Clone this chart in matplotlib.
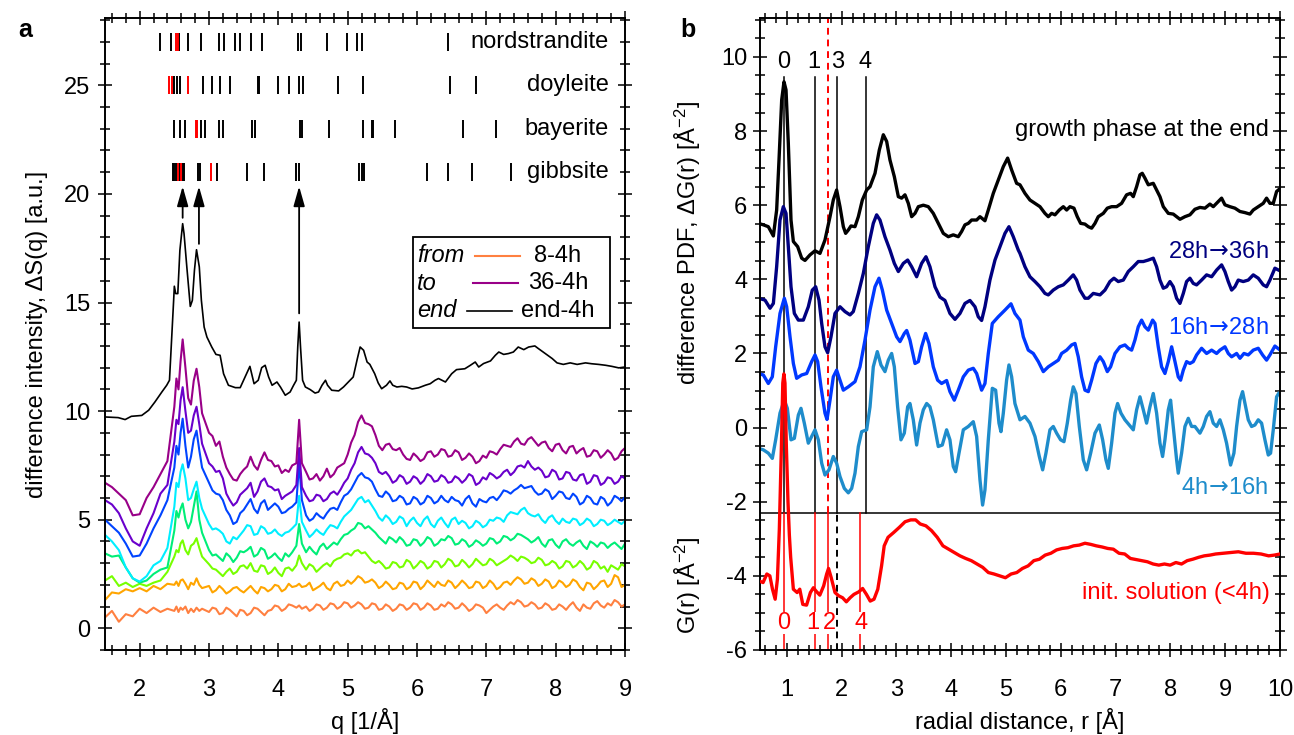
import matplotlib
matplotlib.use('Agg')
import matplotlib.pyplot as plt
from matplotlib.ticker import MultipleLocator
from matplotlib.patches import Rectangle
from matplotlib.lines import Line2D

plt.rcParams['font.family'] = ['Liberation Sans', 'DejaVu Sans']
plt.rcParams['mathtext.fontset'] = 'custom'
plt.rcParams['mathtext.rm'] = 'Liberation Sans'
plt.rcParams['mathtext.it'] = 'Liberation Sans:italic'
plt.rcParams['axes.unicode_minus'] = False

# ---------------- panel a data ----------------
q_end = [1.50,1.69,1.79,1.88,2.03,2.13,2.22,2.32,2.39,2.43,
         2.46,2.49,2.50,2.52,2.55,2.58,2.62,2.64,2.68,2.73,
         2.76,2.79,2.82,2.86,2.89,2.93,2.97,3.04,3.10,3.16,
         3.21,3.28,3.38,3.45,3.52,3.59,3.65,3.71,3.76,3.81,
         3.86,3.91,3.98,4.03,4.10,4.17,4.22,4.26,4.28,4.30,
         4.32,4.35,4.39,4.46,4.53,4.58,4.63,4.68,4.71,4.77,
         4.87,4.94,5.01,5.08,5.14,5.18,5.23,5.28,5.32,5.39,
         5.44,5.49,5.56,5.61,5.65,5.71,5.78,5.85,5.93,6.02,
         6.12,6.19,6.26,6.31,6.41,6.50,6.57,6.69,6.77,6.84,
         6.89,6.96,7.06,7.13,7.18,7.25,7.32,7.39,7.46,7.54,
         7.61,7.70,7.75,7.85,7.95,8.02,8.11,8.21,8.31,8.43,
         8.52,8.62,8.72,8.81,8.91,9.00]
s_end = [9.73,9.70,9.61,9.76,9.80,10.04,10.42,10.88,11.19,11.42,
         13.26,15.10,15.75,15.41,15.41,17.40,18.63,18.17,16.64,14.82,
         15.10,16.48,17.43,16.64,15.10,13.87,13.41,12.95,12.61,12.57,
         11.72,11.19,11.08,11.08,11.57,12.06,11.26,11.42,12.00,12.11,
         11.57,11.19,11.34,11.11,10.73,10.88,11.19,11.42,12.95,14.10,
         12.95,11.42,11.11,10.99,10.83,10.88,11.19,11.42,11.19,10.96,
         10.93,11.11,11.34,11.57,12.42,12.95,12.80,12.26,12.15,11.72,
         11.30,11.03,11.19,11.39,11.19,11.11,11.14,11.11,11.02,11.07,
         11.19,11.26,11.42,11.50,11.34,11.72,11.91,11.95,12.11,12.26,
         12.03,12.19,12.31,12.57,12.72,12.61,12.65,12.72,12.95,12.83,
         12.95,13.00,12.88,12.65,12.42,12.22,12.15,12.22,12.15,12.22,
         12.18,12.15,12.11,12.06,11.99,12.03]

q_col = [1.5,1.6,1.7,1.8,1.9,2.0,2.1,2.2,2.3,2.4,2.5,
         2.53,2.56,2.59,2.62,2.66,2.70,2.74,2.78,2.82,2.86,2.90,
         3.0,3.05,3.1,3.15,3.2,3.25,3.3,3.35,3.4,3.45,3.5,3.55,3.6,3.65,3.7,
         3.75,3.8,3.85,3.9,3.95,4.0,4.05,4.1,4.15,4.2,
         4.26,4.30,4.34,
         4.4,4.45,4.5,4.55,4.6,4.65,4.7,4.75,4.8,4.85,4.9,4.95,5.0,5.05,5.1,5.15,
         5.2,5.25,5.3,5.35,5.4,5.45,5.5,5.55,5.6,5.65,5.7,5.75,5.8,5.85,5.9,5.95,
         6.0,6.05,6.1,6.15,6.2,6.25,6.3,6.35,6.4,6.45,6.5,6.55,6.6,6.65,6.7,6.75,
         6.8,6.85,6.9,6.95,
         7.0,7.05,7.1,7.15,7.2,7.25,7.3,7.35,7.4,7.45,7.5,7.55,7.6,7.65,7.7,7.75,
         7.8,7.85,7.9,7.95,
         8.0,8.05,8.1,8.15,8.2,8.25,8.3,8.35,8.4,8.45,8.5,8.55,8.6,8.65,8.7,8.75,
         8.8,8.85,8.9,8.95,9.0]

s_36 = [6.7,6.5,6.2,5.9,5.2,5.25,6.0,6.5,7.1,7.7,10.2,
        11.5,11.0,12.3,13.3,12.0,10.6,10.3,11.4,11.95,11.1,9.9,
        9.0,8.85,8.4,8.6,7.9,7.4,7.1,6.85,6.8,7.1,7.3,7.45,7.9,7.5,7.3,7.75,8.1,
        7.75,7.7,7.45,7.5,7.15,7.3,7.2,7.5,
        7.6,9.6,7.6,
        7.2,6.85,6.9,7.1,6.8,7.0,7.35,6.95,7.1,7.4,
        7.5,7.6,8.0,8.55,8.9,9.5,9.8,9.45,9.4,9.3,
        8.9,8.4,8.2,8.45,8.5,8.25,8.2,8.3,8.0,7.8,
        7.75,8.05,7.9,7.7,7.8,8.1,8.15,7.9,8.0,8.25,
        8.2,7.9,7.95,8.2,8.1,7.75,7.85,8.05,7.9,7.6,
        7.7,7.95,7.85,8.15,8.1,8.0,8.25,8.45,8.4,8.35,
        8.6,8.75,8.5,8.45,8.7,8.8,8.6,8.4,8.55,8.6,
        8.3,8.15,8.45,8.5,8.2,8.05,8.35,8.4,8.05,8.2,
        8.3,7.9,7.95,8.2,8.15,7.85,8.0,8.2,8.05,7.75,
        7.85,8.15,8.3]
s_32 = [5.9,5.7,5.3,4.6,4.0,3.8,4.6,5.3,6.2,6.6,8.6,
        9.6,9.4,10.5,11.1,10.0,9.0,9.1,9.8,10.2,9.4,8.5,
        7.6,7.45,7.2,7.25,6.9,6.2,5.9,5.65,5.8,6.15,6.3,6.45,6.7,6.05,6.3,6.75,6.9,
        6.55,6.5,6.35,6.4,5.95,6.1,6.2,6.3,
        6.6,8.3,6.5,
        6.1,5.85,5.9,6.15,6.1,5.85,5.95,6.2,6.3,6.15,
        6.4,6.7,6.9,7.3,7.6,8.1,8.35,8.05,8.0,7.85,
        7.6,7.2,7.1,7.2,7.0,6.7,6.8,7.05,6.95,6.65,
        6.75,7.0,6.9,6.65,6.8,7.1,7.0,6.75,6.8,7.05,
        6.95,6.7,6.75,7.0,6.9,6.7,6.85,7.1,7.0,6.6,
        6.7,6.95,6.85,7.15,7.05,6.9,7.0,7.2,7.3,7.05,
        7.2,7.45,7.5,7.4,7.7,7.45,7.3,7.4,7.25,6.95,
        7.0,7.3,7.2,6.85,6.9,7.2,7.15,6.85,6.8,7.05,
        7.1,6.65,6.75,7.05,7.0,6.6,6.7,6.95,6.9,6.65,
        6.75,7.0,6.9]
s_28 = [5.0,4.7,4.4,3.9,3.3,3.35,3.9,4.6,5.2,5.9,7.4,
        8.4,8.0,9.0,9.65,8.4,7.4,7.9,8.7,9.1,8.2,7.4,
        6.7,6.35,6.2,6.15,5.9,5.45,5.2,4.8,4.9,5.3,5.45,5.7,5.95,5.5,5.3,5.75,5.9,
        5.45,5.6,5.75,5.6,5.3,5.35,5.5,5.6,
        5.8,7.6,5.9,
        5.2,4.95,5.05,5.3,5.15,5.05,5.3,5.5,5.55,5.45,
        5.8,6.1,6.2,6.4,6.7,7.0,7.15,6.95,6.9,6.75,
        6.4,6.1,6.05,6.3,6.15,5.85,5.9,6.1,6.0,5.7,
        5.75,6.05,5.95,5.7,5.8,6.1,6.0,5.75,5.85,6.1,
        5.9,5.8,6.05,5.9,5.85,5.65,5.95,6.1,5.75,5.6,
        5.95,5.85,5.8,6.0,6.05,5.9,6.1,6.35,6.3,6.2,
        6.35,6.45,6.6,6.45,6.5,6.55,6.3,6.15,6.2,6.4,
        6.3,5.95,6.1,6.3,6.25,6.0,5.95,6.2,6.05,5.7,
        5.8,6.1,6.0,5.75,5.7,6.05,5.95,5.65,5.8,6.1,
        6.0,5.85,6.05]
s_24 = [4.3,4.0,3.6,2.8,2.3,2.15,2.4,2.9,3.1,3.7,5.6,
        6.7,6.5,7.2,7.55,6.9,5.9,6.0,6.4,6.75,6.0,5.5,
        4.8,4.55,4.6,4.5,4.35,4.0,3.9,4.2,4.1,4.3,4.5,4.75,4.7,4.3,4.35,4.7,4.6,
        4.35,4.4,4.55,4.35,4.25,4.4,4.45,4.6,
        4.8,6.1,4.9,
        4.5,4.2,4.35,4.55,4.4,4.3,4.55,4.75,4.7,4.6,
        4.9,5.15,5.3,5.45,5.7,5.95,6.05,5.8,5.9,5.65,
        5.4,5.1,4.95,5.2,5.05,4.8,4.9,5.15,5.05,4.7,
        4.95,5.1,4.85,4.7,5.0,5.15,4.8,4.65,4.95,5.1,
        4.85,4.65,5.0,5.1,4.8,4.95,4.85,4.6,4.7,4.95,
        4.85,4.65,4.75,5.0,4.95,5.1,5.05,4.9,5.2,5.35,
        5.3,5.25,5.45,5.55,5.3,5.2,5.15,5.25,5.0,4.85,
        5.1,5.2,4.95,4.8,5.05,4.9,4.85,5.05,5.0,4.75,
        4.85,5.05,4.95,4.7,4.8,5.0,4.95,4.75,4.85,5.0,
        4.9,4.8,4.95]
s_20 = [3.45,3.3,3.35,2.8,2.3,2.1,2.2,2.5,2.7,2.8,4.5,
        5.4,5.1,5.5,5.75,5.0,4.6,4.9,5.6,6.3,5.0,4.4,
        3.6,3.35,3.4,3.25,3.1,3.45,3.3,3.05,3.25,3.55,3.5,3.6,3.75,3.3,3.4,3.7,3.6,
        3.2,3.3,3.45,3.25,3.1,3.45,3.3,3.5,
        3.8,4.8,3.9,
        3.5,3.75,3.55,3.4,3.75,3.9,3.65,3.8,3.95,3.85,
        4.1,4.3,4.35,4.5,4.6,4.85,4.8,4.6,4.7,4.55,
        4.4,4.2,4.05,3.9,4.2,4.1,3.95,4.2,4.05,3.8,
        3.85,4.1,4.05,3.8,3.95,4.2,4.1,3.8,3.9,4.1,
        4.05,4.25,4.15,3.85,3.9,4.1,4.0,3.75,3.85,4.05,
        3.95,3.8,3.9,4.15,4.1,3.9,4.0,4.25,4.2,4.05,
        4.15,4.35,4.3,4.2,4.1,3.95,4.05,4.2,3.9,3.75,
        4.05,4.1,3.85,3.7,4.0,4.1,3.9,3.8,3.95,4.05,
        3.8,3.65,4.0,3.9,3.75,3.95,3.9,3.7,3.85,3.95,
        3.8,3.65,3.9]
s_16 = [2.2,2.4,1.95,2.1,1.9,2.05,1.95,2.1,2.2,2.6,3.3,
        3.6,3.5,3.9,4.05,3.6,3.4,3.8,3.9,4.15,3.7,3.3,
        2.95,2.75,2.7,2.55,2.4,2.6,2.75,2.5,2.6,2.85,2.9,2.75,3.0,2.65,2.6,2.9,2.85,
        2.5,2.6,2.8,2.55,2.4,2.75,2.8,2.65,
        2.9,3.35,3.0,
        2.7,2.95,2.85,2.6,2.75,2.9,3.0,2.85,3.1,3.2,
        3.25,3.4,3.45,3.35,3.55,3.6,3.45,3.5,3.3,3.1,
        3.0,3.1,2.95,2.75,2.8,3.05,3.0,2.8,2.85,3.15,
        3.05,2.75,2.9,3.1,3.0,2.75,2.85,3.1,3.05,2.8,
        2.95,3.2,3.1,2.85,2.9,3.15,3.0,2.8,2.95,3.2,
        3.05,2.9,2.95,3.2,3.1,2.9,3.0,3.1,3.2,3.35,
        3.25,3.1,3.3,3.25,3.15,3.0,3.05,3.25,3.15,2.9,
        2.95,3.1,3.0,2.75,2.85,3.1,3.05,2.8,2.9,3.1,
        2.95,2.7,2.8,3.1,3.0,2.75,2.85,2.6,2.9,2.8,
        2.7,2.95,2.85]
s_12 = [1.3,1.65,1.6,1.8,1.7,1.85,1.7,1.95,1.8,2.05,2.0,
        2.15,1.95,2.2,2.25,2.05,1.8,2.1,2.0,2.3,2.0,1.85,
        1.95,1.65,1.75,1.95,1.8,1.6,1.7,1.85,1.9,1.75,1.65,1.8,1.95,1.75,1.6,1.9,1.85,
        1.7,1.8,2.0,1.95,1.7,1.8,2.05,1.9,
        1.95,2.05,1.9,
        1.95,2.1,1.75,1.85,1.95,2.1,1.85,1.75,2.05,2.15,
        1.95,2.0,2.2,2.05,2.2,2.4,2.3,2.1,2.15,2.25,
        2.1,1.85,1.95,2.15,2.0,1.8,1.85,2.1,2.05,1.8,
        1.9,2.15,2.1,1.8,1.95,2.2,2.05,1.9,2.15,2.0,
        1.95,2.2,2.1,1.85,2.0,2.2,2.05,1.85,1.9,2.15,
        2.1,1.85,1.95,2.2,2.05,1.8,1.9,2.1,2.15,2.0,
        2.2,2.35,2.25,2.05,2.1,2.3,2.2,1.95,2.05,2.25,
        2.15,1.85,1.95,2.2,2.1,1.9,2.0,2.25,2.15,1.9,
        1.75,2.1,2.05,1.8,1.95,2.15,2.2,1.9,2.05,2.45,
        2.35,1.9,2.0]
s_8 = [0.5,0.8,0.3,0.65,0.55,0.9,0.7,0.95,0.75,0.9,0.8,
       1.0,0.75,0.95,0.85,1.0,0.7,0.9,0.75,0.95,0.8,0.9,
       0.75,0.95,0.9,0.65,0.7,0.95,0.85,0.7,0.55,0.85,0.8,0.6,0.7,0.95,0.9,0.75,0.6,
       0.8,0.85,1.05,1.0,0.8,0.9,1.1,1.05,
       0.95,1.05,0.9,
       1.0,0.8,0.9,1.1,1.05,0.85,0.95,1.15,1.1,0.9,
       1.0,1.2,1.15,0.95,1.05,1.2,1.1,0.9,0.95,1.15,
       1.1,0.85,0.9,1.1,1.0,0.8,0.9,1.1,1.05,0.85,
       0.95,1.15,1.1,0.85,0.95,1.15,1.05,0.85,0.9,1.1,
       1.0,1.2,1.1,0.9,0.95,1.15,1.0,0.8,0.9,1.1,
       1.05,0.95,0.7,0.85,1.0,1.1,0.95,0.85,1.05,1.2,
       1.1,1.3,1.2,1.0,1.05,1.2,1.1,0.9,0.95,1.15,
       1.05,0.85,0.9,1.1,1.0,0.85,1.05,1.2,0.95,0.8,
       1.1,0.95,0.9,1.15,1.25,1.05,0.95,1.15,1.05,1.3,
       1.2,1.0,1.1]

series_a = [s_8, s_12, s_16, s_20, s_24, s_28, s_32, s_36]
colors_a = ['#FF8040', '#FFA500', '#77FF00', '#00EE77', '#00EEFF',
            '#0044FF', '#6A00CC', '#990088']

phase_names = ['nordstrandite', 'doyleite', 'bayerite', 'gibbsite']
phase_rows = [27, 25, 23, 21]
phase_black = [
    [2.29, 2.45, 2.57, 2.69, 2.89, 3.15, 3.21, 3.38, 3.44, 3.61, 3.76, 4.28, 4.33,
     4.70, 4.99, 5.13, 5.21, 6.45],
    [2.50, 2.54, 2.58, 2.92, 3.04, 3.16, 3.30, 3.71, 3.72, 3.99, 4.16, 4.30, 4.35,
     4.86, 5.22, 6.48, 6.85],
    [2.49, 2.58, 2.65, 2.88, 2.94, 3.15, 3.20, 3.62, 3.66, 4.31, 4.34, 4.73, 5.22,
     5.35, 5.36, 5.68, 6.67, 7.14],
    [2.48, 2.50, 2.52, 2.58, 2.62, 2.64, 2.84, 2.87, 3.11, 3.55, 3.79, 4.26, 4.30,
     5.17, 5.20, 5.23, 6.15, 6.45, 6.80, 7.35],
]
phase_red = [[2.53, 2.55], [2.43, 2.47, 2.69], [2.81, 2.83], [2.55, 2.60, 3.03]]

arrow_q = [2.62, 2.855, 4.30]
arrow_tail = [18.9, 17.7, 14.5]
arrow_tip = 20.35

# ---------------- panel b data ----------------
r_end = [0.479,0.570,0.661,0.753,0.813,0.856,0.905,0.947,0.984,1.026,
         1.075,1.118,1.197,1.270,1.330,1.422,1.513,1.604,1.695,1.787,
         1.847,1.908,1.969,2.030,2.072,2.121,2.170,2.243,2.304,2.377,
         2.456,2.517,2.608,2.687,2.760,2.821,2.881,2.961,3.034,3.094,
         3.155,3.216,3.277,3.338,3.399,3.490,3.581,3.672,3.763,3.855,
         3.946,4.037,4.128,4.189,4.250,4.311,4.372,4.463,4.524,4.615,
         4.676,4.767,4.858,4.950,5.029,5.102,5.193,
         5.254,5.345,5.436,5.528,5.619,5.710,5.771,5.832,5.893,5.972,
         6.045,6.106,6.166,6.239,6.300,6.361,6.440,6.501,6.562,6.623,
         6.683,6.775,6.848,6.927,7.018,7.109,7.200,7.273,7.322,7.383,
         7.444,7.486,7.535,7.596,7.687,7.748,7.809,7.870,7.961,8.052,
         8.113,8.174,8.265,8.356,8.447,8.539,8.630,8.721,8.782,8.873,
         8.934,8.995,9.086,9.177,9.269,9.360,9.451,9.512,9.603,9.694,
         9.755,9.816,9.877,9.938,9.986]
g_end = [5.51,5.47,5.42,5.17,5.87,7.22,8.84,9.33,9.11,7.67,
         5.60,5.02,4.88,4.57,4.51,4.66,4.77,4.70,5.06,5.69,
         6.14,6.41,5.96,5.42,5.24,5.33,5.44,5.42,5.69,6.14,
         6.41,6.50,6.86,7.49,7.90,7.72,7.22,6.77,6.23,6.19,
         6.28,6.05,5.69,5.78,5.96,6.00,5.96,5.78,5.51,5.24,
         5.15,5.20,5.15,5.29,5.47,5.51,5.60,5.60,5.69,5.58,
         5.87,6.32,6.68,7.04,7.27,6.95,6.59,
         6.55,6.32,6.14,6.05,5.96,5.78,5.69,5.78,5.74,5.87,
         5.96,5.87,5.96,5.92,5.69,5.51,5.49,5.42,5.38,5.51,
         5.69,5.78,5.92,5.96,5.96,6.05,6.28,6.32,6.23,6.50,
         6.82,6.86,6.73,6.55,6.59,6.41,6.23,5.96,5.78,5.76,
         5.69,5.62,5.69,5.74,5.89,5.94,5.92,6.03,5.96,6.10,
         6.19,6.01,5.96,5.92,5.83,5.80,5.76,5.87,5.96,6.05,
         6.19,6.05,6.05,6.37,6.43]

r_2836 = [0.479,0.600,0.692,0.753,0.813,0.874,0.935,0.984,1.026,1.075,
          1.136,1.209,1.300,1.391,1.464,1.525,1.586,1.635,1.695,1.744,
          1.805,1.878,1.969,2.060,2.152,2.212,2.304,2.395,2.486,2.577,
          2.638,2.699,2.790,2.881,2.961,3.034,3.125,3.204,3.277,3.368,
          3.459,3.538,3.611,3.703,3.794,3.885,3.976,4.068,4.159,4.250,
          4.341,4.433,4.493,4.554,4.615,4.706,4.798,4.889,4.980,5.053,
          5.132,5.223,
          5.254,5.345,5.436,5.528,5.619,5.710,5.771,5.862,5.954,6.045,
          6.136,6.227,6.288,6.349,6.440,6.501,6.592,6.714,6.805,6.896,
          6.969,7.048,7.140,7.231,7.322,7.413,7.505,7.596,7.687,7.748,
          7.809,7.870,7.930,7.991,8.052,8.113,8.174,8.235,8.295,8.356,
          8.417,8.478,8.569,8.660,8.752,8.843,8.934,8.995,9.056,9.117,
          9.177,9.238,9.329,9.421,9.512,9.603,9.694,9.755,9.816,9.907,
          9.986]
g_2836 = [3.49,3.44,3.22,3.35,4.34,5.60,5.96,5.78,4.88,3.80,
          3.08,2.90,2.90,3.26,3.71,3.80,3.44,2.81,2.18,2.02,
          2.45,3.08,3.26,3.13,3.04,3.13,3.62,4.16,4.88,5.51,
          5.74,5.60,5.15,4.79,4.43,4.21,4.43,4.52,4.34,4.07,
          4.43,4.61,4.34,3.80,3.52,3.43,3.08,2.92,3.08,3.35,
          3.43,3.26,2.99,2.89,3.26,3.98,4.52,4.88,5.24,5.42,
          5.15,4.79,
          4.70,4.34,4.07,3.94,3.80,3.62,3.58,3.71,3.80,3.85,
          3.98,4.12,3.98,3.71,3.49,3.49,3.62,3.58,3.71,3.94,
          4.03,3.94,3.98,4.21,4.34,4.48,4.48,4.52,4.57,4.34,
          3.98,3.76,3.80,3.94,3.80,3.49,3.35,3.62,3.94,4.03,
          3.89,3.85,3.98,4.12,4.07,4.25,4.39,4.21,3.94,3.71,
          3.80,3.98,3.94,3.98,4.12,4.03,3.85,3.80,3.98,4.30,
          4.24]

r_1628 = [0.479,0.570,0.661,0.734,0.795,0.874,0.953,0.996,1.057,1.118,
          1.178,1.270,1.361,1.452,1.513,1.562,1.622,1.695,1.732,1.787,
          1.847,1.908,1.969,2.030,2.121,2.243,2.334,2.425,2.517,2.608,
          2.681,2.742,2.821,2.912,3.003,3.064,3.143,3.186,3.246,3.338,
          3.399,3.459,3.532,3.593,3.672,3.751,3.824,3.915,3.976,4.055,
          4.128,4.220,4.311,4.402,4.463,4.554,4.615,4.676,4.749,4.858,
          4.980,5.090,5.162,
          5.254,5.315,5.406,5.497,5.589,5.680,5.771,5.862,5.954,6.014,
          6.106,6.197,6.258,6.318,6.379,6.440,6.501,6.562,6.641,6.714,
          6.775,6.848,6.908,6.988,7.079,7.170,7.231,7.292,7.352,7.413,
          7.474,7.535,7.596,7.675,7.718,7.778,7.839,7.900,7.961,8.022,
          8.083,8.143,8.186,8.235,8.295,8.356,8.417,8.478,8.569,8.660,
          8.752,8.843,8.904,8.995,9.056,9.117,9.208,9.269,9.342,9.421,
          9.512,9.603,9.682,9.755,9.816,9.907,9.986]
g_1628 = [1.46,1.42,1.19,1.37,2.18,3.08,3.49,3.26,2.45,1.73,
          1.33,1.42,1.46,1.78,1.96,1.78,1.10,0.39,0.22,0.74,
          1.37,1.55,1.28,1.01,1.10,1.24,1.64,2.36,3.17,3.80,
          4.03,3.71,3.17,2.81,2.45,2.32,2.54,2.62,2.36,1.73,
          1.78,2.18,2.54,2.27,1.64,1.28,1.19,1.27,0.97,0.74,
          1.01,1.37,1.55,1.60,1.46,1.01,1.19,2.00,2.81,2.99,
          3.17,3.34,3.08,
          2.90,2.45,2.09,2.00,1.78,1.51,1.64,1.73,1.82,2.00,
          2.09,2.23,2.27,1.91,1.37,1.01,0.97,1.28,1.73,1.91,
          1.78,1.51,1.64,2.00,2.18,2.23,2.14,2.09,2.36,2.72,
          2.90,2.72,2.63,2.90,2.81,2.18,1.64,1.46,1.78,2.18,
          1.78,1.37,1.28,1.55,1.78,1.73,1.78,1.96,2.14,2.00,
          2.09,2.00,2.09,2.18,2.00,1.91,2.00,1.87,2.00,1.96,
          2.09,2.14,1.96,1.82,1.96,2.20,2.11]

r_0416 = [0.479,0.570,0.661,0.734,0.795,0.874,0.953,1.008,1.075,1.136,
          1.209,1.257,1.318,1.391,1.452,1.513,1.574,1.635,1.695,1.768,
          1.847,1.908,1.969,2.048,2.121,2.182,2.243,2.304,2.365,2.456,
          2.517,2.577,2.650,2.717,2.790,2.851,2.912,2.961,3.021,3.082,
          3.143,3.204,3.246,3.307,3.368,3.429,3.490,3.551,3.611,3.672,
          3.763,3.836,3.915,3.976,4.037,4.080,4.141,4.220,4.311,4.402,
          4.463,4.524,4.572,4.615,4.676,4.749,4.810,4.871,4.907,4.950,
          5.010,5.053,5.102,5.162,
          5.254,5.345,5.436,5.528,5.607,5.668,5.728,5.801,5.862,5.923,
          5.996,6.057,6.118,6.179,6.227,6.276,6.337,6.410,6.471,6.544,
          6.623,6.702,6.763,6.823,6.866,6.927,6.988,7.036,7.097,7.170,
          7.249,7.322,7.383,7.444,7.505,7.565,7.626,7.687,7.748,7.809,
          7.857,7.900,7.961,8.003,8.052,8.113,8.143,8.204,8.265,8.326,
          8.387,8.447,8.539,8.600,8.660,8.721,8.782,8.843,8.904,8.965,
          9.025,9.098,9.159,9.208,9.269,9.317,9.360,9.421,9.481,9.542,
          9.603,9.664,9.725,9.786,9.828,9.877,9.938,9.974]
g_0416 = [-0.56,-0.60,-0.69,-0.83,-0.33,0.39,0.74,0.52,-0.33,-0.29,
          0.34,0.52,0.12,-0.42,-0.24,-0.06,-0.33,-0.96,-1.28,-1.14,
          -0.78,-0.96,-1.32,-1.64,-1.76,-1.64,-1.23,-0.51,-0.11,-0.06,
          0.56,1.64,2.05,1.69,1.51,1.82,2.00,1.64,0.56,-0.33,
          -0.15,0.56,0.65,0.21,-0.47,0.12,0.48,0.65,0.56,0.21,
          -0.51,-0.47,-0.06,-0.33,-1.05,-1.19,-0.69,-0.06,0.03,0.16,
          -0.24,-1.41,-2.09,-1.68,-0.33,1.06,1.01,0.12,-0.11,0.39,
          1.28,1.69,1.37,0.65,
          0.21,0.30,0.12,-0.24,-0.78,-1.14,-0.69,-0.06,0.03,-0.15,
          -0.33,-0.38,0.12,0.74,1.10,0.92,0.03,-0.87,-1.14,-0.69,
          -0.15,0.07,-0.33,-0.87,-1.10,-0.42,0.39,0.65,0.39,0.21,
          0.07,-0.06,0.48,0.83,0.48,0.12,0.56,0.92,0.39,-0.42,
          -0.78,-0.33,0.48,0.74,0.03,-0.87,-1.23,-0.69,0.03,0.25,
          0.03,0.03,-0.15,0.03,0.30,0.43,0.12,0.03,0.21,-0.06,
          -0.42,-1.01,-0.69,0.03,0.74,0.97,0.65,0.21,0.03,0.07,
          0.21,0.12,-0.33,-0.74,-0.69,-0.06,0.83,0.92]

r_init = [0.495,0.565,0.634,0.689,0.737,0.786,0.827,0.862,0.90,0.925,
          0.945,0.965,0.99,1.02,1.045,1.069,1.118,1.187,1.235,1.29,
          1.359,1.429,1.484,1.532,1.601,1.671,1.726,1.760,1.809,1.878,
          1.947,2.016,2.085,2.154,2.223,2.313,2.382,2.452,2.521,2.590,
          2.659,2.728,2.776,2.846,2.949,3.053,3.157,3.260,3.350,3.433,
          3.537,3.640,3.744,3.848,3.952,4.055,4.159,4.263,4.366,4.470,
          4.574,4.677,4.781,4.885,4.988,5.092,5.196,5.299,5.403,5.507,
          5.610,5.714,5.818,5.922,6.025,6.129,6.233,6.336,6.440,6.544,
          6.647,6.751,6.855,6.958,7.062,7.166,7.269,7.373,7.477,7.580,
          7.684,7.788,7.891,7.995,8.099,8.203,8.306,8.410,8.514,8.617,
          8.721,8.825,8.963,9.101,9.240,9.378,9.516,9.654,9.793,9.896,
          10.0]
g_init = [-4.14,-4.18,-3.95,-4.00,-4.36,-4.63,-4.09,-2.74,-0.5,1.2,
          1.45,1.2,-0.5,-2.0,-2.9,-3.5,-4.36,-4.45,-4.36,-4.77,
          -4.79,-4.45,-4.32,-4.41,-4.52,-4.27,-3.95,-3.80,-4.05,-4.45,
          -4.54,-4.59,-4.70,-4.59,-4.50,-4.43,-4.34,-4.50,-4.68,-4.63,
          -4.36,-3.73,-3.19,-2.96,-2.83,-2.69,-2.54,-2.49,-2.49,-2.60,
          -2.65,-2.78,-2.96,-3.19,-3.28,-3.37,-3.46,-3.53,-3.59,-3.68,
          -3.77,-3.91,-3.95,-4.00,-4.05,-3.95,-3.91,-3.80,-3.73,-3.59,
          -3.55,-3.44,-3.39,-3.30,-3.26,-3.24,-3.19,-3.17,-3.12,-3.15,
          -3.19,-3.22,-3.26,-3.28,-3.39,-3.41,-3.53,-3.56,-3.59,-3.62,
          -3.68,-3.71,-3.68,-3.71,-3.64,-3.68,-3.59,-3.55,-3.50,-3.46,
          -3.44,-3.41,-3.39,-3.37,-3.35,-3.39,-3.39,-3.41,-3.46,-3.44,
          -3.41]

split_level = -2.3
top_marks_r = [0.945, 1.52, 1.91, 2.44]
top_marks_lbl = ['0', '1', '3', '4']
top_lbl_r = [0.945, 1.50, 1.93, 2.43]
bot_marks_r = [0.945, 1.51, 1.75, 2.33]
bot_marks_lbl = ['0', '1', '2', '4']
bot_lbl_r = [0.945, 1.47, 1.77, 2.35]
red_dash_r = 1.75
black_dash_r = 1.91

# ---------------- figure ----------------
W, H = 1294, 735
fig = plt.figure(figsize=(W / 100, H / 100), dpi=100)
axa = fig.add_axes([105 / W, 1 - 650 / H, 520 / W, 632 / H])
axb = fig.add_axes([759.5 / W, 1 - 650 / H, 520.5 / W, 632 / H])

FS = 17


def style(ax):
    ax.tick_params(which='both', direction='inout', top=True, right=True,
                   labelsize=FS, width=1.1, colors='black')
    ax.tick_params(which='major', length=9.5)
    ax.tick_params(which='minor', length=6.5)
    ax.tick_params(axis='x', which='both', pad=16)
    for s in ax.spines.values():
        s.set_linewidth(1.4)


# ----- panel a -----
for s, c in zip(series_a, colors_a):
    axa.plot(q_col, s, color=c, lw=1.5, zorder=2)
axa.plot(q_end, s_end, color='black', lw=1.2, zorder=3)

for name, row, qb, qr in zip(phase_names, phase_rows, phase_black, phase_red):
    axa.vlines(qb, row - 0.42, row + 0.42, color='black', lw=1.4)
    axa.vlines(qr, row - 0.42, row + 0.42, color='red', lw=1.4)
    axa.text(8.77, row, name, ha='right', va='center', fontsize=FS)

for qa_, tail in zip(arrow_q, arrow_tail):
    axa.annotate('', xy=(qa_, arrow_tip), xytext=(qa_, tail),
                 arrowprops=dict(arrowstyle='-|>,head_length=0.6,head_width=0.17',
                                 color='black', lw=1.3, mutation_scale=20,
                                 shrinkA=0, shrinkB=0))

axa.set_xlim(1.5, 9)
axa.set_ylim(-1.0, 28.1)
axa.xaxis.set_major_locator(MultipleLocator(1))
axa.xaxis.set_minor_locator(MultipleLocator(0.2))
axa.yaxis.set_major_locator(MultipleLocator(5))
axa.yaxis.set_minor_locator(MultipleLocator(1))
style(axa)
axa.tick_params(axis='y', which='both', pad=6)
axa.set_xlabel('q [1/Å]', fontsize=FS)
axa.xaxis.set_label_coords(0.5, -0.092)
axa.set_ylabel('difference intensity, ΔS(q) [a.u.]', fontsize=FS)
axa.yaxis.set_label_coords(-0.11, 0.5)

# legend (manual)
leg_tr = axa.transAxes
axa.add_patch(Rectangle((0.592, 0.509), 0.379, 0.145, transform=leg_tr,
                        fill=True, facecolor='white', edgecolor='black', lw=1.3, zorder=5))
leg_rows = [0.624, 0.580, 0.537]
leg_words = ['from', 'to', 'end']
leg_lbls = ['8-4h', '36-4h', 'end-4h']
leg_cols = ['#FF8040', '#990088', 'black']
leg_x0 = [0.7115, 0.708, 0.696]
leg_x1 = [0.798, 0.795, 0.783]
for yy, w, l, c, x0, x1 in zip(leg_rows, leg_words, leg_lbls, leg_cols, leg_x0, leg_x1):
    axa.text(0.600, yy, w, transform=leg_tr, fontsize=FS, style='italic',
             ha='left', va='center', zorder=6)
    axa.add_line(Line2D([x0, x1], [yy, yy], transform=leg_tr, color=c,
                        lw=1.5 if c != 'black' else 1.2, zorder=6))
    axa.text(0.871, yy, l, transform=leg_tr, fontsize=FS, ha='center',
             va='center', zorder=6)

# ----- panel b -----
axb.axhline(split_level, color='black', lw=1.1, zorder=1)
for r in top_marks_r:
    axb.plot([r, r], [split_level, 9.45], color='black', lw=1.1, zorder=1)
for r, t in zip(top_lbl_r, top_marks_lbl):
    axb.text(r, 9.85, t, ha='center', va='center', fontsize=FS)
axb.plot([red_dash_r, red_dash_r], [split_level, 11.05], color='red', lw=1.4,
         ls=(0, (3.5, 2.5)), zorder=1)
axb.plot([black_dash_r, black_dash_r], [-6, split_level], color='black', lw=1.4,
         ls=(0, (3.5, 2.5)), zorder=1)
for r in bot_marks_r:
    axb.plot([r, r], [-6, split_level], color='red', lw=1.1, zorder=1)
for r, t in zip(bot_lbl_r, bot_marks_lbl):
    axb.text(r, -5.27, t, ha='center', va='center', fontsize=FS, color='red',
             zorder=4, bbox=dict(facecolor='white', edgecolor='none', pad=0.2))

LW = 2.4
c_2836, c_1628, c_0416 = '#000080', '#0038FF', '#1E8CCB'
axb.plot(r_end, g_end, color='black', lw=LW, zorder=2, solid_joinstyle='round')
axb.plot(r_2836, g_2836, color=c_2836, lw=LW, zorder=2, solid_joinstyle='round')
axb.plot(r_1628, g_1628, color=c_1628, lw=LW, zorder=2, solid_joinstyle='round')
axb.plot(r_0416, g_0416, color=c_0416, lw=LW, zorder=2, solid_joinstyle='round')
axb.plot(r_init, g_init, color='#FF0000', lw=LW, zorder=3, solid_joinstyle='round')

ARW = r'$\!\rightarrow\!$'
axb.text(9.79, 8.03, 'growth phase at the end', ha='right', va='center',
         fontsize=FS, color='black')
axb.text(9.79, 4.75, '28h' + ARW + '36h', ha='right', va='center', fontsize=FS,
         color=c_2836, math_fontfamily='dejavusans')
axb.text(9.79, 2.68, '16h' + ARW + '28h', ha='right', va='center', fontsize=FS,
         color=c_1628, math_fontfamily='dejavusans')
axb.text(9.79, -1.64, '4h' + ARW + '16h', ha='right', va='center', fontsize=FS,
         color=c_0416, math_fontfamily='dejavusans')
axb.text(9.81, -4.45, 'init. solution (<4h)', ha='right', va='center',
         fontsize=FS, color='#FF0000')

axb.set_xlim(0.5, 10)
axb.set_ylim(-6, 11.05)
axb.xaxis.set_major_locator(MultipleLocator(1))
axb.xaxis.set_minor_locator(MultipleLocator(0.2))
axb.yaxis.set_major_locator(MultipleLocator(2))
axb.yaxis.set_minor_locator(MultipleLocator(0.5))
style(axb)
axb.tick_params(axis='y', which='both', pad=4)
axb.set_xlabel('radial distance, r [Å]', fontsize=FS)
axb.xaxis.set_label_coords(0.5, -0.092)
axb.text(-0.137, 0.644, r'difference PDF, ΔG(r) [Å$^{\mathregular{-2}}$]',
         transform=axb.transAxes, rotation=90, ha='center', va='center', fontsize=FS)
axb.text(-0.137, 0.103, r'G(r) [Å$^{\mathregular{-2}}$]',
         transform=axb.transAxes, rotation=90, ha='center', va='center', fontsize=FS)

fig.text(18 / W, 1 - 30 / H, 'a', fontsize=18, fontweight='bold', ha='left', va='center')
fig.text(680 / W, 1 - 30 / H, 'b', fontsize=18, fontweight='bold', ha='left', va='center')

fig.savefig('out.png', dpi=100)
